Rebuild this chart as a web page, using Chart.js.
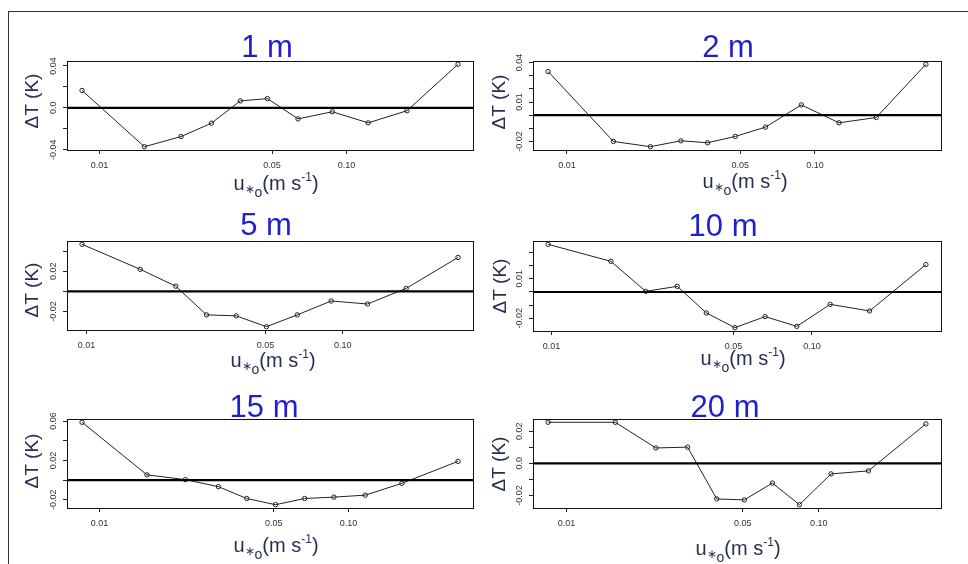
<!DOCTYPE html>
<html lang="en">
<head>
<meta charset="UTF-8">
<title>ΔT against u*o at six heights</title>
<script src="https://cdn.jsdelivr.net/npm/chart.js"></script>
<style>
    body {
        margin: 0;
        width: 968px;
        height: 564px;
        overflow: hidden;
        background: #fff;
        position: relative;
    }
    .frame {
        position: absolute;
        left: 8px;
        top: 11px;
        width: 990px;
        height: 600px;
        border-left: 1px solid #333;
        border-top: 1px solid #333;
    }
    canvas {
        position: absolute;
    }
</style>
</head>
<body>
<div class="frame"></div>
<canvas id="p1"></canvas>
<canvas id="p2"></canvas>
<canvas id="p3"></canvas>
<canvas id="p4"></canvas>
<canvas id="p5"></canvas>
<canvas id="p6"></canvas>

<script>
// panel titles
const heights = ['1 m', '2 m', '5 m', '10 m', '15 m', '20 m'];

// u*o bins (m s-1) and temperature differences (K)
const uStar1m = [0.0085, 0.0152, 0.0214, 0.0284, 0.0372, 0.0479, 0.0637, 0.0877, 0.1225, 0.176, 0.283];
const dT1m = [0.0166, -0.0372, -0.0275, -0.0147, 0.0066, 0.0088, -0.0106, -0.0038, -0.0144, -0.0028, 0.0416];

const uStar2m = [0.0084, 0.0154, 0.0217, 0.0288, 0.0369, 0.0477, 0.0632, 0.0881, 0.125, 0.1766, 0.280];
const dT2m = [0.0332, -0.0200, -0.0240, -0.0195, -0.0210, -0.0162, -0.0091, 0.0078, -0.0058, -0.0018, 0.0387];

const uStar5m = [0.0096, 0.0162, 0.0223, 0.0294, 0.0384, 0.0504, 0.0665, 0.0902, 0.125, 0.177, 0.282];
const dT5m = [0.0469, 0.0220, 0.0052, -0.0233, -0.0243, -0.0351, -0.0233, -0.0095, -0.0125, 0.0030, 0.0338];

const uStar10m = [0.0097, 0.0169, 0.0230, 0.0304, 0.0393, 0.0506, 0.0661, 0.0875, 0.1175, 0.1665, 0.274];
const dT10m = [0.0362, 0.0233, 0.0005, 0.0043, -0.0159, -0.0271, -0.0187, -0.0261, -0.0094, -0.0144, 0.0208];

const uStar15m = [0.0085, 0.0155, 0.0221, 0.0300, 0.0390, 0.0509, 0.0666, 0.0873, 0.1167, 0.1637, 0.275];
const dT15m = [0.0587, 0.0053, 0.0005, -0.0067, -0.0187, -0.0250, -0.0187, -0.0173, -0.0153, -0.0033, 0.0190];

const uStar20m = [0.00845, 0.0156, 0.0226, 0.0302, 0.0394, 0.0507, 0.0655, 0.0838, 0.1119, 0.1574, 0.266];
const dT20m = [0.0256, 0.0256, 0.0096, 0.0101, -0.0222, -0.0228, -0.0123, -0.0258, -0.0066, -0.0047, 0.0246];

// x axis ticks (same for every panel)
const xTickValues = [0.01, 0.05, 0.1];
const xTickLabels = ['0.01', '0.05', '0.10'];

// y axis ticks per panel; empty label = tick mark only
const yTicks1m = [-0.04, -0.02, 0, 0.02, 0.04];
const yLabels1m = ['-0.04', '', '0.0', '', '0.04'];
const yTicks2m = [-0.02, -0.01, 0, 0.01, 0.02, 0.03, 0.04];
const yLabels2m = ['-0.02', '', '', '0.01', '', '', '0.04'];
const yTicks5m = [-0.02, 0, 0.02, 0.04];
const yLabels5m = ['-0.02', '', '0.02', ''];
const yTicks10m = [-0.02, -0.01, 0, 0.01, 0.02, 0.03];
const yLabels10m = ['-0.02', '', '', '0.01', '', ''];
const yTicks15m = [-0.02, 0, 0.02, 0.04, 0.06];
const yLabels15m = ['-0.02', '', '0.02', '', '0.06'];
const yTicks20m = [-0.02, -0.01, 0, 0.01, 0.02];
const yLabels20m = ['-0.02', '', '0.0', '', '0.02'];

const series = [
    { x: uStar1m, y: dT1m, ticks: yTicks1m, labels: yLabels1m },
    { x: uStar2m, y: dT2m, ticks: yTicks2m, labels: yLabels2m },
    { x: uStar5m, y: dT5m, ticks: yTicks5m, labels: yLabels5m },
    { x: uStar10m, y: dT10m, ticks: yTicks10m, labels: yLabels10m },
    { x: uStar15m, y: dT15m, ticks: yTicks15m, labels: yLabels15m },
    { x: uStar20m, y: dT20m, ticks: yTicks20m, labels: yLabels20m }
];

// page layout (px): plot box [left, top, right, bottom], text anchors
const panels = [
    { id: 'p1', box: [67, 61, 473, 150], title: [267, 57], xlab: [276, 190], ylab: [33, 101] },
    { id: 'p2', box: [533, 61, 941, 150], title: [728, 57], xlab: [745, 188], ylab: [500, 102] },
    { id: 'p3', box: [67, 241, 473, 330], title: [266, 235], xlab: [273, 367], ylab: [33, 290] },
    { id: 'p4', box: [533, 241, 941, 331], title: [723, 236], xlab: [743, 365], ylab: [501, 286] },
    { id: 'p5', box: [67, 419, 473, 508], title: [264, 417], xlab: [276, 552], ylab: [33, 461] },
    { id: 'p6', box: [533, 419, 941, 508], title: [725, 417], xlab: [738, 555], ylab: [500, 464] }
];

const PAD_L = 66, PAD_T = 62, PAD_R = 12, PAD_B = 60;
const FONT = "'Liberation Sans', Arial, sans-serif";
const TEXT_DARK = '#26304f';

// R-style axis range: data range widened by 4% each side
function padRange(lo, hi) {
    const d = (hi - lo) * 0.04;
    return [lo - d, hi + d];
}

function drawXTitle(ctx, cx, base) {
    const parts = [
        { t: 'u', size: 20, dy: 0 },
        { t: '\u2217', size: 12, dy: 3 },
        { t: 'o', size: 14, dy: 7 },
        { t: '(m s', size: 20, dy: 0 },
        { t: '-1', size: 12, dy: -9 },
        { t: ')', size: 20, dy: 0 }
    ];
    let total = 0;
    parts.forEach(p => {
        ctx.font = p.size + 'px ' + FONT;
        p.w = ctx.measureText(p.t).width;
        total += p.w;
    });
    let x = cx - total / 2;
    ctx.textAlign = 'left';
    ctx.textBaseline = 'alphabetic';
    parts.forEach(p => {
        ctx.font = p.size + 'px ' + FONT;
        ctx.fillText(p.t, x, base + p.dy);
        x += p.w;
    });
}

function makeDecor(panel, s, title, ox, oy) {
    return {
        id: 'decor' + panel.id,
        afterDatasetsDraw(chart) {
            // thick zero line over the data, like abline(h = 0, lwd = 2)
            const ctx = chart.ctx;
            const a = chart.chartArea;
            const y0 = chart.scales.y.getPixelForValue(0);
            ctx.save();
            ctx.strokeStyle = '#000';
            ctx.lineWidth = 2.2;
            ctx.beginPath();
            ctx.moveTo(a.left, y0);
            ctx.lineTo(a.right, y0);
            ctx.stroke();
            ctx.restore();
        },
        afterDraw(chart) {
            const ctx = chart.ctx;
            const a = chart.chartArea;
            ctx.save();
            // plot box
            ctx.strokeStyle = '#111';
            ctx.lineWidth = 1;
            ctx.strokeRect(Math.round(a.left) + 0.5, Math.round(a.top) + 0.5,
                Math.round(a.right - a.left), Math.round(a.bottom - a.top));

            // panel title
            ctx.fillStyle = '#1f1fd0';
            ctx.font = '31px ' + FONT;
            ctx.textAlign = 'center';
            ctx.textBaseline = 'alphabetic';
            ctx.fillText(title, panel.title[0] - ox, panel.title[1] - oy);

            // y tick labels, parallel to the axis
            ctx.fillStyle = '#333';
            ctx.font = '9px ' + FONT;
            ctx.textBaseline = 'middle';
            s.ticks.forEach((v, i) => {
                if (!s.labels[i]) return;
                const py = chart.scales.y.getPixelForValue(v);
                ctx.save();
                ctx.translate(a.left - 13, py);
                ctx.rotate(-Math.PI / 2);
                ctx.fillText(s.labels[i], 0, 0);
                ctx.restore();
            });

            // y title
            ctx.fillStyle = TEXT_DARK;
            ctx.font = '19px ' + FONT;
            ctx.save();
            ctx.translate(panel.ylab[0] - ox, panel.ylab[1] - oy);
            ctx.rotate(-Math.PI / 2);
            ctx.textAlign = 'center';
            ctx.fillText('\u0394T (K)', 0, 0);
            ctx.restore();

            // x title with sub/superscripts
            drawXTitle(ctx, panel.xlab[0] - ox, panel.xlab[1] - oy);
            ctx.restore();
        }
    };
}

panels.forEach((panel, k) => {
    const s = series[k];
    const [l, t, r, b] = panel.box;
    const ox = l - PAD_L, oy = t - PAD_T;
    const w = (r - l) + PAD_L + PAD_R;
    const h = (b - t) + PAD_T + PAD_B;
    const canvas = document.getElementById(panel.id);
    canvas.width = w;
    canvas.height = h;
    canvas.style.left = ox + 'px';
    canvas.style.top = oy + 'px';

    const lx = padRange(Math.log10(Math.min(...s.x)), Math.log10(Math.max(...s.x)));
    const ly = padRange(Math.min(...s.y), Math.max(...s.y));

    new Chart(canvas, {
        type: 'line',
        data: {
            datasets: [{
                data: s.x.map((x, i) => ({ x: x, y: s.y[i] })),
                borderColor: '#222',
                borderWidth: 1,
                pointRadius: 2.2,
                pointBorderWidth: 1,
                pointBorderColor: '#222',
                pointBackgroundColor: 'rgba(255,255,255,0)',
                tension: 0
            }]
        },
        options: {
            responsive: false,
            animation: false,
            layout: { padding: { left: 0, top: PAD_T, right: PAD_R, bottom: 0 } },
            plugins: {
                legend: { display: false },
                tooltip: { enabled: false }
            },
            scales: {
                x: {
                    type: 'logarithmic',
                    min: Math.pow(10, lx[0]),
                    max: Math.pow(10, lx[1]),
                    afterBuildTicks: sc => { sc.ticks = xTickValues.map(v => ({ value: v })); },
                    afterFit: sc => { sc.height = PAD_B; },
                    ticks: {
                        callback: v => xTickLabels[xTickValues.indexOf(v)],
                        font: { size: 9, family: FONT },
                        color: '#333',
                        padding: 6,
                        autoSkip: false,
                        maxRotation: 0,
                        minRotation: 0
                    },
                    grid: { drawOnChartArea: false, tickLength: 4, color: '#222' },
                    border: { display: false }
                },
                y: {
                    type: 'linear',
                    min: ly[0],
                    max: ly[1],
                    afterBuildTicks: sc => { sc.ticks = s.ticks.map(v => ({ value: v })); },
                    afterFit: sc => { sc.width = PAD_L; },
                    ticks: { display: false },
                    grid: { drawOnChartArea: false, tickLength: 4, color: '#222' },
                    border: { display: false }
                }
            }
        },
        plugins: [makeDecor(panel, s, heights[k], ox, oy)]
    });
});
</script>
</body>
</html>
